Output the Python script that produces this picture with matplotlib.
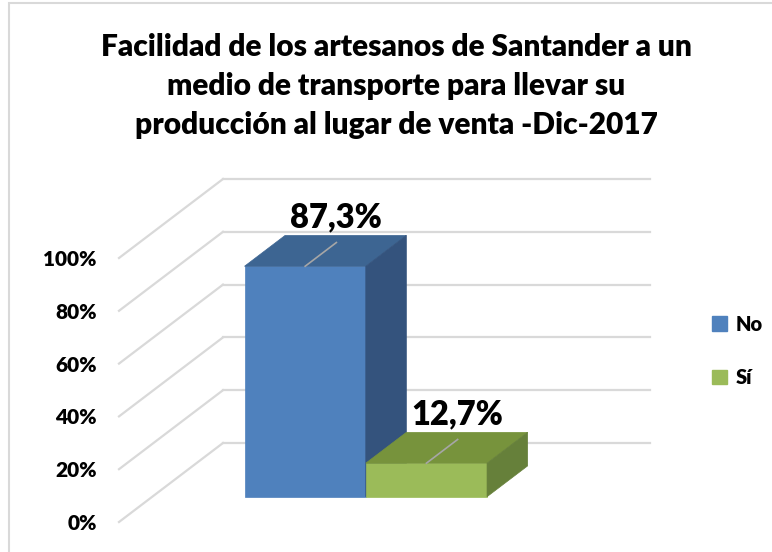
import numpy as np
import matplotlib
matplotlib.use("Agg")
import matplotlib.pyplot as plt
from matplotlib.patches import Polygon, Rectangle, Patch

plt.rcParams['font.family'] = ['Lato', 'DejaVu Sans']
plt.rcParams['font.weight'] = 'bold'

# data
title = "Facilidad de los artesanos de Santander a un\nmedio de transporte para llevar su\nproducción al lugar de venta -Dic-2017"
series = ["No", "Sí"]
values = [0.873, 0.127]
value_labels = ["87,3%", "12,7%"]
ticks = [0.0, 0.2, 0.4, 0.6, 0.8, 1.0]
tick_labels = ["0%", "20%", "40%", "60%", "80%", "100%"]

front_cols = ["#4F81BD", "#9BBB59"]
top_cols = ["#3D6592", "#77933C"]
side_cols = ["#34537D", "#66803A"]

fig = plt.figure(figsize=(7.72, 5.52), dpi=100)
W, H = 772, 552
ax = fig.add_axes([119 / W, 30 / H, 427 / W, 264 / H])
ax.set_xlim(0, 1)
ax.set_ylim(0, 1)

# oblique depth (full depth of the plot box) in data units
DX = 104 / 427
DY = 79 / 264


def proj(x, y, d):
    return (x + d * DX, y + d * DY)


# gridlines: side wall diagonals + back wall
grid_col = "#D9D9D9"
for t in ticks:
    p0, p1 = proj(0, t, 0), proj(0, t, 1)
    ax.plot([p0[0], p1[0]], [p0[1], p1[1]], color=grid_col, lw=1.6, clip_on=False, zorder=1)
    p2 = proj(1, t, 1)
    ax.plot([p1[0], p2[0]], [p1[1], p2[1]], color=grid_col, lw=1.6, clip_on=False, zorder=1)

# bars
center = 0.5
bw = 0.284
d0, d1 = 0.32, 0.71
for i, (v, lab) in enumerate(zip(values, value_labels)):
    x0 = center - bw + i * bw
    x1 = x0 + bw
    front = [proj(x0, 0, d0), proj(x1, 0, d0), proj(x1, v, d0), proj(x0, v, d0)]
    top = [proj(x0, v, d0), proj(x1, v, d0), proj(x1, v, d1), proj(x0, v, d1)]
    side = [proj(x1, 0, d0), proj(x1, 0, d1), proj(x1, v, d1), proj(x1, v, d0)]
    for pts, c in [(front, front_cols[i]), (top, top_cols[i]), (side, side_cols[i])]:
        ax.add_patch(Polygon(pts, closed=True, facecolor=c, edgecolor=c, lw=0.5,
                             clip_on=False, zorder=2 + i))
    # leader line and label
    xc = (x0 + x1) / 2
    a = proj(xc, v, d0)
    b = proj(xc, v, d0 + 0.77 * (d1 - d0))
    ax.plot([a[0], b[0]], [a[1], b[1]], color="#A6A6A6", lw=1.2, clip_on=False, zorder=5)
    ax.annotate(lab, xy=b, xytext=(0, 11), textcoords="offset points",
                ha="center", va="baseline", fontsize=23.5, fontweight="heavy",
                color="black", zorder=6, annotation_clip=False)

ax.set_yticks(ticks)
ax.set_yticklabels(tick_labels, fontsize=15, fontweight="heavy")
ax.tick_params(axis="y", length=0, pad=16)
ax.set_xticks([])
for s in ax.spines.values():
    s.set_visible(False)
ax.patch.set_alpha(0)

fig.text(396 / W, 1 - 33 / H, title, ha="center", va="top", fontsize=21.5,
         fontweight="heavy", linespacing=1.47)

handles = [Patch(facecolor=c, edgecolor=c) for c in front_cols]
fig.legend(handles, series, loc="center left", bbox_to_anchor=(694 / W, 1 - 351 / H),
           bbox_transform=fig.transFigure, frameon=False,
           handlelength=0.75, handleheight=0.75, handletextpad=0.4, labelspacing=1.7,
           prop={'weight': 'heavy', 'size': 14.5})

# chart border
fig.add_artist(Rectangle((9 / W, -0.1), 1.2, 1 - 3 / H + 0.1, transform=fig.transFigure,
                         facecolor="none", edgecolor="#D9D9D9", lw=1.5))

fig.savefig("out.png", dpi=100)
